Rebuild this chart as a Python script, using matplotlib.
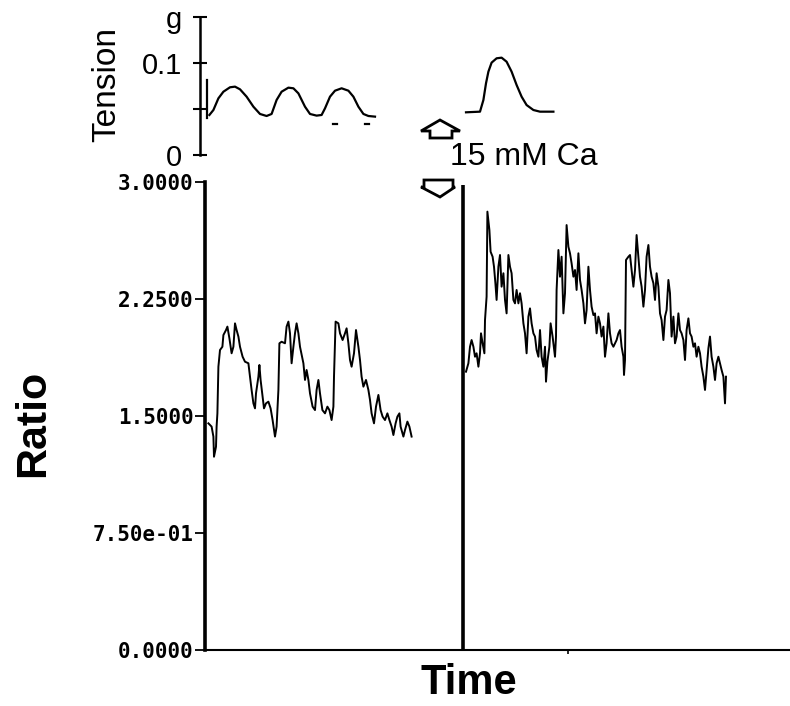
import matplotlib
matplotlib.use("Agg")
import matplotlib.pyplot as plt
from matplotlib.patches import Polygon
import numpy as np

# --- Data (time in s, ratio / tension in g) ---
t_ratio1 = [1.7, 3.3, 4.2, 4.5, 5.5, 5.8, 6.2, 6.7, 7.5, 8.7, 9.2, 10.5, 11.2, 12.2, 13.3, 14.2,
            15.0, 15.8, 16.7, 17.5, 18.8, 20.0, 21.7, 22.5, 23.3, 24.2, 25.0, 25.5, 26.7, 27.2,
            27.8, 28.8, 29.5, 30.5, 31.7, 32.8, 33.8, 35.0, 35.8, 36.7, 37.2, 38.3, 40.0, 40.8,
            41.7, 42.5, 43.3, 44.2, 45.0, 45.8, 46.7, 47.5, 49.2, 50.0, 50.8, 51.7, 52.5, 53.8,
            55.0, 55.8, 56.7, 57.5, 58.7, 60.0, 61.2, 62.2, 63.3, 64.2, 64.5, 65.3, 66.7, 67.5,
            68.8, 70.0, 70.8, 71.7, 72.5, 73.3, 74.5, 75.5, 76.7, 77.5, 78.3, 79.2, 80.5, 81.7,
            82.5, 83.3, 84.5, 85.5, 86.7, 87.8, 88.8, 90.0, 91.2, 92.2, 93.3, 94.2, 95.3, 96.2,
            97.2, 97.8, 99.2, 100.0, 101.2, 102.2, 103.3]
ratio1 = [1.453, 1.432, 1.368, 1.239, 1.303, 1.432, 1.517, 1.816, 1.923, 1.944, 2.019, 2.051,
          2.073, 1.998, 1.902, 1.944, 2.094, 2.051, 2.009, 1.944, 1.880, 1.848, 1.838, 1.752,
          1.667, 1.581, 1.549, 1.645, 1.752, 1.827, 1.731, 1.624, 1.549, 1.581, 1.592, 1.549,
          1.474, 1.368, 1.432, 1.667, 1.966, 1.976, 1.966, 2.073, 2.105, 2.030, 1.838, 1.944,
          2.030, 2.094, 2.030, 1.944, 1.838, 1.731, 1.795, 1.731, 1.645, 1.560, 1.538, 1.667,
          1.731, 1.645, 1.538, 1.517, 1.560, 1.538, 1.474, 1.560, 1.752, 2.105, 2.094, 2.030,
          1.987, 2.030, 2.062, 1.966, 1.859, 1.816, 1.902, 2.051, 1.944, 1.859, 1.752, 1.688,
          1.731, 1.667, 1.603, 1.517, 1.453, 1.560, 1.635, 1.538, 1.496, 1.474, 1.517, 1.474,
          1.432, 1.378, 1.453, 1.496, 1.517, 1.432, 1.368, 1.410, 1.464, 1.432, 1.368]

t_ratio2 = [130.5, 131.7, 132.5, 133.3, 134.2, 135.0, 135.8, 136.7, 137.5, 138.0, 138.8, 139.7,
            140.0, 140.8, 141.2, 142.2, 142.8, 143.8, 144.5, 145.2, 145.8, 146.7, 147.5, 148.3,
            149.2, 150.0, 150.8, 151.7, 152.5, 153.3, 154.2, 155.0, 155.8, 156.7, 157.5, 158.3,
            159.2, 160.0, 160.8, 161.7, 162.5, 163.3, 164.2, 165.0, 165.8, 166.7, 167.5, 168.3,
            169.2, 170.0, 170.5, 171.2, 172.2, 172.8, 173.8, 175.0, 175.5, 175.8, 176.7, 177.5,
            178.3, 179.2, 180.0, 180.8, 181.7, 182.5, 183.3, 184.2, 185.0, 185.8, 186.7, 187.5,
            188.3, 189.2, 190.0, 190.8, 191.7, 192.5, 193.3, 194.2, 195.0, 195.8, 196.7, 197.5,
            198.3, 199.2, 200.0, 200.8, 201.7, 202.5, 203.3, 204.2, 205.0, 205.8, 206.7, 207.5,
            208.3, 209.2, 209.5, 210.0, 210.5, 211.7, 212.5, 213.3, 214.2, 215.0, 215.8, 216.7,
            217.5, 218.3, 219.2, 220.0, 220.8, 221.7, 222.5, 223.3, 224.2, 225.0, 225.8, 226.7,
            227.5, 228.3, 229.2, 230.0, 230.8, 231.7, 232.5, 233.3, 234.2, 235.0, 235.8, 236.7,
            237.5, 238.3, 239.2, 240.0, 240.8, 241.7, 242.5, 243.3, 244.2, 245.0, 245.8, 246.7,
            247.5, 248.3, 249.2, 250.0, 250.8, 251.7, 252.5, 253.3, 254.2, 255.0, 255.8, 256.7,
            257.5, 258.3, 259.2, 260.0, 260.5]
ratio2 = [1.784, 1.838, 1.944, 1.987, 1.944, 1.880, 1.902, 1.816, 1.902, 2.030, 1.966, 1.902,
          2.115, 2.265, 2.810, 2.692, 2.553, 2.521, 2.457, 2.351, 2.244, 2.457, 2.532, 2.329,
          2.415, 2.244, 2.158, 2.532, 2.457, 2.415, 2.244, 2.222, 2.308, 2.222, 2.287, 2.222,
          2.094, 2.030, 1.902, 2.137, 2.190, 2.094, 2.030, 2.009, 1.923, 1.880, 2.051, 1.880,
          1.816, 1.944, 1.720, 1.848, 1.944, 2.094, 2.009, 1.880, 2.009, 2.308, 2.564, 2.393,
          2.521, 2.158, 2.287, 2.724, 2.585, 2.543, 2.479, 2.393, 2.436, 2.308, 2.543, 2.372,
          2.308, 2.222, 2.094, 2.179, 2.457, 2.308, 2.201, 2.147, 2.158, 2.030, 2.137, 2.094,
          2.009, 2.073, 1.880, 1.966, 2.158, 2.030, 1.966, 1.944, 1.966, 1.987, 2.030, 2.051,
          1.944, 1.880, 1.763, 1.859, 2.500, 2.521, 2.532, 2.436, 2.329, 2.436, 2.660, 2.521,
          2.393, 2.329, 2.201, 2.308, 2.521, 2.596, 2.457, 2.393, 2.351, 2.244, 2.415, 2.329,
          2.158, 2.115, 1.987, 2.137, 2.179, 2.372, 2.287, 2.009, 2.137, 1.966, 2.009, 2.158,
          2.051, 2.030, 1.987, 1.859, 2.051, 2.126, 2.030, 2.009, 1.944, 1.966, 1.880, 1.944,
          1.902, 1.816, 1.752, 1.667, 1.795, 1.934, 2.009, 1.880, 1.816, 1.731, 1.838, 1.880,
          1.838, 1.795, 1.752, 1.581, 1.752]

# second recording starts with a full-scale stroke at the Ca switch
t_switch = 129.0
switch_stroke = [0.0, 2.98]

t_tens1 = [2.2, 4.2, 6.7, 9.2, 12.5, 15.0, 17.5, 20.8, 24.2, 27.5, 30.8, 33.3, 35.8, 38.3, 41.7,
           44.2, 46.7, 50.0, 52.5, 55.8, 58.3, 60.0, 62.5, 65.0, 68.3, 71.7, 74.2, 76.7, 79.2,
           81.7, 85.0]
tens1 = [0.0435, 0.0489, 0.0616, 0.0688, 0.0736, 0.0743, 0.0714, 0.0634, 0.0525, 0.0446, 0.0424,
         0.0446, 0.0598, 0.0688, 0.0732, 0.0725, 0.0670, 0.0525, 0.0446, 0.0428, 0.0435, 0.0507,
         0.0634, 0.0699, 0.0725, 0.0699, 0.0634, 0.0525, 0.0446, 0.0424, 0.0417]
t_tens_mark = 1.2
tens_mark = [0.040, 0.0815]
dash_t = [(64.2, 65.8), (80.0, 82.2)]
dash_level = 0.0333

t_tens2 = [130.5, 137.5, 139.2, 140.5, 141.7, 143.3, 145.8, 148.3, 150.8, 153.3, 155.8, 158.3,
           160.8, 164.2, 167.5, 174.2]
tens2 = [0.0464, 0.0471, 0.0598, 0.0779, 0.0906, 0.1004, 0.1051, 0.1058, 0.1014, 0.0906, 0.0761,
         0.0634, 0.0543, 0.0489, 0.0471, 0.0471]

ratio_ticks = [0.0, 0.75, 1.5, 2.25, 3.0]
ratio_labels = ["0.0000", "7.50e-01", "1.5000", "2.2500", "3.0000"]
tens_ticks = [0.0, 0.05, 0.1, 0.15]
tens_labels = ["0", "", "0.1", "g"]

W, H = 790, 706


def fx(px):
    return px / W


def fy(py):
    return 1 - py / H


fig = plt.figure(figsize=(W / 100, H / 100), dpi=100)
sans = "Liberation Sans"

# --- Ratio panel ---
ax = fig.add_axes([fx(205), fy(650), fx(585), 468 / H])
ax.plot(t_ratio1, ratio1, color="black", lw=1.4)
ax.plot(t_ratio2, ratio2, color="black", lw=1.4)
ax.plot([t_switch, t_switch], switch_stroke, color="black", lw=2.6, solid_capstyle="butt")
ax.set_xlim(0, 292.5)
ax.set_ylim(0, 3.0)
ax.set_yticks(ratio_ticks)
ax.set_yticklabels(ratio_labels, family="DejaVu Sans Mono", fontweight="bold", fontsize=15)
ax.set_xticks([181.5])
ax.set_xticklabels([""])
ax.tick_params(axis="y", direction="out", length=7, width=1.3, pad=1)
ax.tick_params(axis="x", direction="out", length=3, width=1.2)
for s in ["top", "right"]:
    ax.spines[s].set_visible(False)
ax.spines["left"].set_linewidth(2.6)
ax.spines["bottom"].set_linewidth(1.5)
ax.patch.set_visible(False)

# --- Tension panel ---
axt = fig.add_axes([fx(200), fy(155), fx(590), 138 / H])
axt.plot(t_tens1, tens1, color="black", lw=1.6)
axt.plot([t_tens_mark, t_tens_mark], tens_mark, color="black", lw=1.6)
for a, b in dash_t:
    axt.plot([a, b], [dash_level, dash_level], color="black", lw=1.6)
axt.plot(t_tens2, tens2, color="black", lw=1.6)
axt.set_xlim(-2.5, 292.5)
axt.set_ylim(0, 0.15)
axt.set_yticks(tens_ticks)
axt.set_yticklabels(tens_labels, family=sans, fontsize=21)
axt.set_xticks([])
axt.tick_params(axis="y", direction="inout", length=10, width=1.5, pad=8)
for s in ["top", "right", "bottom"]:
    axt.spines[s].set_visible(False)
axt.spines["left"].set_linewidth(1.8)
axt.patch.set_visible(False)

# --- Labels ---
fig.text(fx(107), fy(84), "Tension", rotation=90, ha="center", va="center",
         family=sans, fontsize=24)
fig.text(fx(33), fy(423), "Ratio", rotation=90, ha="center", va="center",
         family=sans, fontsize=31, fontweight="bold")
fig.text(fx(469), fy(683), "Time", ha="center", va="center",
         family=sans, fontsize=30, fontweight="bold")
fig.text(fx(450), fy(157), "15 mM Ca", ha="left", va="center", family=sans, fontsize=23)

# --- Solution-change arrows (outlined) ---
up = [(440, 120), (421, 131), (430, 131), (430, 138), (452, 138), (452, 131), (460, 131)]
down = [(424, 180), (453, 180), (453, 187), (455, 187), (440, 197), (421, 187), (424, 187)]
for shape in (up, down):
    pts = np.array([(fx(x), fy(y)) for x, y in shape])
    fig.patches.append(Polygon(pts, closed=True, fill=False, lw=2.0, ec="black",
                               transform=fig.transFigure, figure=fig))

fig.savefig("out.png", dpi=100, facecolor="white")
